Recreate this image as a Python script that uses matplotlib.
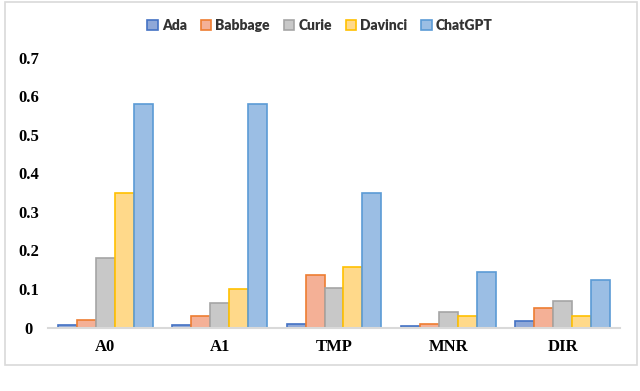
import matplotlib
matplotlib.use("Agg")
import matplotlib.pyplot as plt
import numpy as np
from matplotlib.patches import Rectangle

categories = ["A0", "A1", "TMP", "MNR", "DIR"]
series_names = ["Ada", "Babbage", "Curie", "Davinci", "ChatGPT"]
ada = [0.007, 0.007, 0.009, 0.004, 0.018]
babbage = [0.019, 0.031, 0.135, 0.008, 0.051]
curie = [0.181, 0.064, 0.103, 0.041, 0.070]
davinci = [0.350, 0.099, 0.158, 0.029, 0.029]
chatgpt = [0.580, 0.580, 0.350, 0.145, 0.122]
yticks = [0, 0.1, 0.2, 0.3, 0.4, 0.5, 0.6, 0.7]
ytick_labels = ["0", "0.1", "0.2", "0.3", "0.4", "0.5", "0.6", "0.7"]

values = [ada, babbage, curie, davinci, chatgpt]
fills = ["#8FA8D8", "#F4B096", "#C8C8C8", "#FFD98A", "#9BBEE4"]
edges = ["#4472C4", "#ED7D31", "#A5A5A5", "#FFC000", "#5B9BD5"]

fig = plt.figure(figsize=(6.4, 3.91), dpi=100)
fig.patch.set_facecolor("white")
# outer border
fig.patches.append(Rectangle((5/640, 1-365/391), 632/640, 363/391, transform=fig.transFigure,
                             fill=False, edgecolor="#D9D9D9", linewidth=1.2))

ax = fig.add_axes([48/640, 1-327.5/391, 572/640, 270/391])
x = np.arange(len(categories))
w = 0.166
for i, (name, vals) in enumerate(zip(series_names, values)):
    offs = (i - 2) * w
    ax.bar(x + offs, vals, width=w, color=fills[i], edgecolor=edges[i], linewidth=1.2,
           label=name, zorder=3)

ax.set_xlim(-0.5, len(categories) - 0.5)
ax.set_ylim(0, 0.7)
ax.set_yticks(yticks)
ax.set_yticklabels(ytick_labels)
ax.set_xticks(x)
ax.set_xticklabels(categories)
for lab in ax.get_yticklabels():
    lab.set_horizontalalignment("center")
ax.tick_params(axis="y", length=0, pad=14)
ax.tick_params(axis="x", length=0, pad=8)
for lab in ax.get_xticklabels() + ax.get_yticklabels():
    lab.set_fontfamily("Liberation Serif")
    lab.set_fontweight("bold")
    lab.set_fontsize(12)
    lab.set_color("#000000")
for s in ["top", "right", "left"]:
    ax.spines[s].set_visible(False)
ax.spines["bottom"].set_color("#D9D9D9")
ax.spines["bottom"].set_linewidth(1.5)
ax.spines["bottom"].set_zorder(4)

leg = fig.legend(loc="center", bbox_to_anchor=(320/640, 1-25/391), ncol=5, frameon=False,
                 handlelength=0.75, handleheight=0.75, handletextpad=0.3, columnspacing=1.0,
                 prop={"family": "Lato", "weight": "heavy", "size": 10})
for t in leg.get_texts():
    t.set_color("#333333")

fig.savefig("out.png", dpi=100, facecolor="white")
